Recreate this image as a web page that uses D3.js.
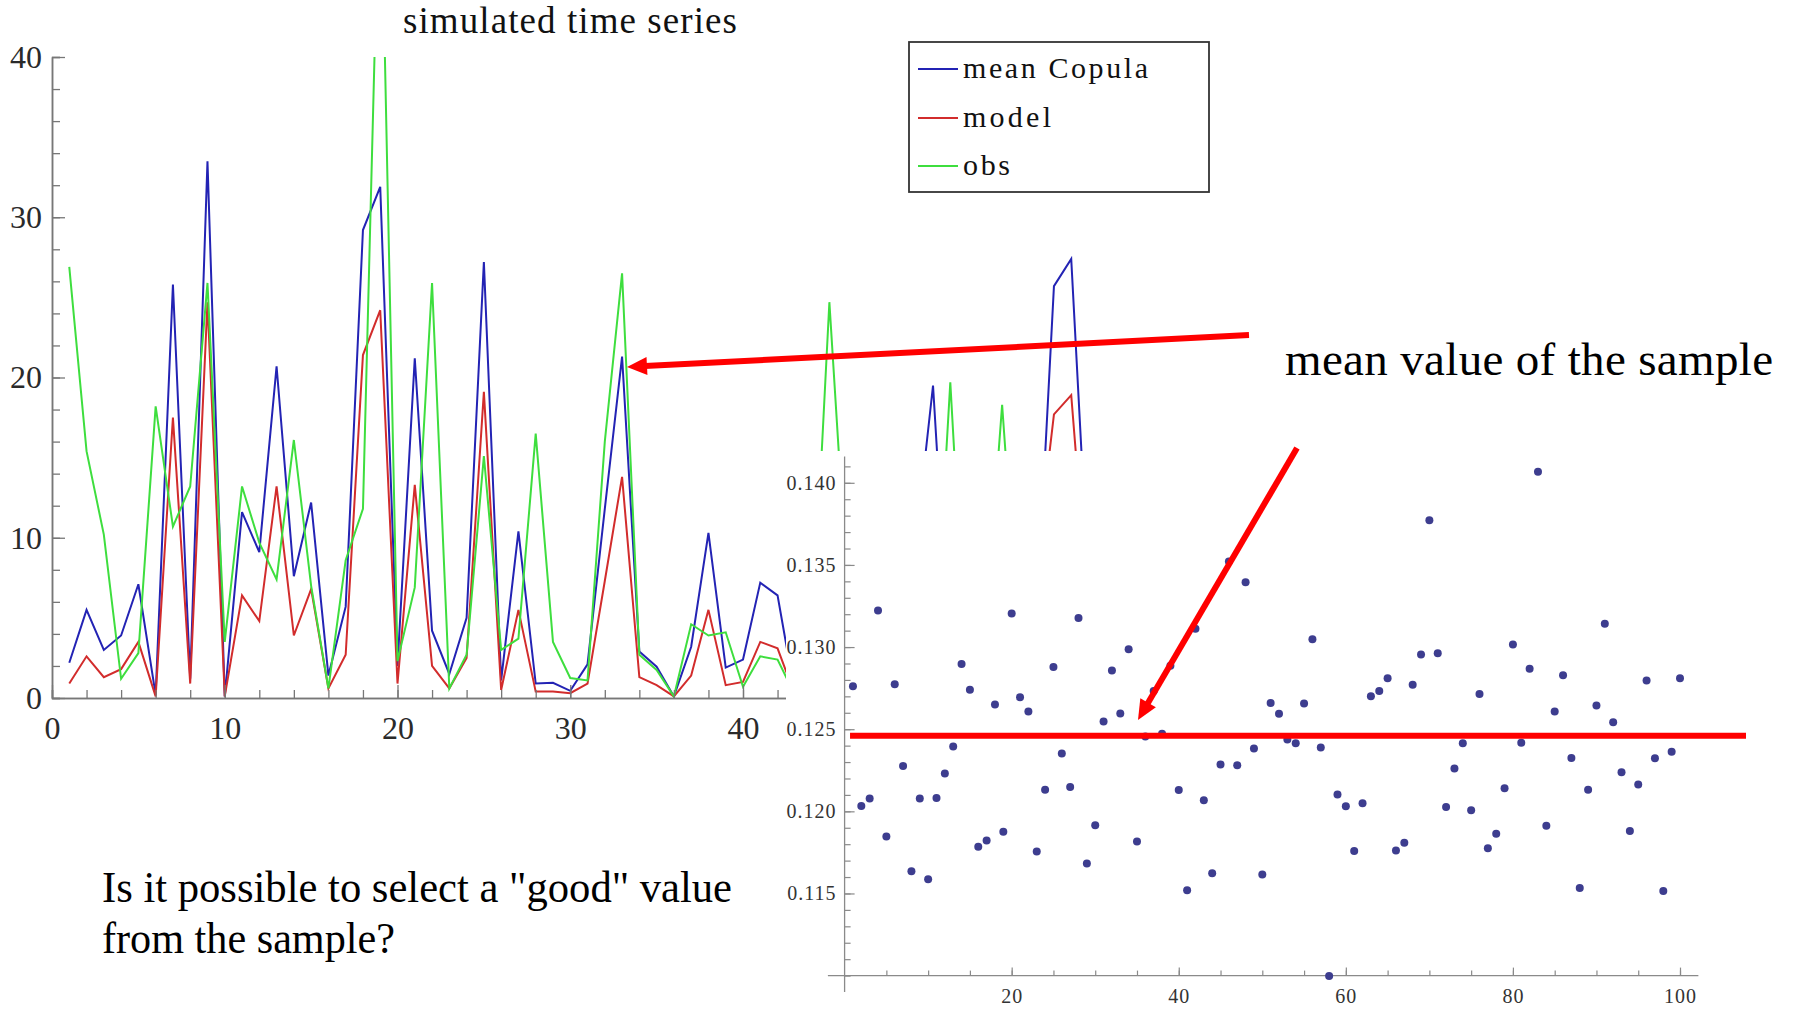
<!DOCTYPE html>
<html>
<head>
<meta charset="utf-8">
<script src="https://cdn.jsdelivr.net/npm/d3@7"></script>
<style>
    body { margin: 0; background: #fff; }
    svg { display: block; font-family: "Liberation Serif", "Times New Roman", serif; }
</style>
</head>
<body>
<div id="chart"></div>
<script>
// time series, steps 1..60
const steps = d3.range(1, 61);
const meanCopula = [2.2, 5.5, 3.0, 3.9, 7.1, 0.2, 25.8, 1.2, 33.5, 0.1,
    11.6, 9.1, 20.7, 7.6, 12.2, 1.4, 5.7, 29.2, 31.9, 2.0,
    21.2, 4.2, 1.5, 5.0, 27.2, 1.1, 10.4, 0.9, 0.95, 0.45,
    2.1, 11.8, 21.3, 2.9, 1.95, 0.1, 3.2, 10.3, 1.9, 2.4,
    7.2, 6.4, 0.3, 2.5, 8.0, 1.5, 4.0, 0.8, 6.0, 9.7,
    19.5, 1.7, 3.5, 0.6, 5.0, 2.0, 5.1, 25.7, 27.4, 7.1];
const model = [0.9, 2.6, 1.3, 1.8, 3.5, 0.1, 17.5, 0.9, 24.7, 0.1,
    6.4, 4.8, 13.2, 3.9, 6.8, 0.6, 2.7, 21.4, 24.2, 0.9,
    13.3, 2.0, 0.6, 2.5, 19.1, 0.5, 5.5, 0.4, 0.4, 0.3,
    0.9, 7.3, 13.8, 1.3, 0.8, 0.1, 1.4, 5.5, 0.8, 1.0,
    3.5, 3.1, 0.2, 1.2, 4.5, 0.6, 2.0, 0.4, 3.0, 5.5,
    10.5, 0.8, 1.8, 0.3, 2.6, 1.0, 8.5, 17.7, 18.9, 5.4];
const obs = [26.9, 15.4, 10.2, 1.2, 2.8, 18.2, 10.7, 13.2, 25.9, 3.5,
    13.2, 9.7, 7.4, 16.1, 7.0, 0.6, 8.6, 11.8, 54.0, 2.3,
    6.9, 25.9, 0.6, 2.7, 15.1, 3.0, 3.7, 16.5, 3.5, 1.25,
    1.1, 16.0, 26.5, 2.7, 1.75, 0.1, 4.6, 3.9, 4.1, 0.7,
    2.6, 2.4, 0.2, 3.6, 24.7, 7.5, 2.0, 5.5, 1.5, 3.0,
    1.0, 19.7, 0.5, 3.8, 18.3, 3.0, 2.5, 6.0, 1.2, 4.0];
const seriesNames = ["mean Copula", "model", "obs"];
const seriesColors = ["#2323b4", "#d22c2c", "#3ede3e"];

// sample of 100 values
const sampleIndex = d3.range(1, 101);
const sampleValues = [0.12762, 0.12033, 0.12078, 0.13222, 0.11847, 0.12774, 0.12276, 0.11636, 0.12078, 0.11587,
    0.12081, 0.12231, 0.12395, 0.12897, 0.12740, 0.11784, 0.11823, 0.12650, 0.11876, 0.13204,
    0.12695, 0.12608, 0.11755, 0.12132, 0.12879, 0.12352, 0.12148, 0.13177, 0.11683, 0.11915,
    0.12547, 0.12857, 0.12596, 0.12987, 0.11816, 0.12455, 0.12733, 0.12473, 0.12886, 0.12130,
    0.11520, 0.13112, 0.12067, 0.11623, 0.12285, 0.13521, 0.12280, 0.13395, 0.12383, 0.11616,
    0.12659, 0.12594, 0.12437, 0.12415, 0.12657, 0.13047, 0.12388, 0.10997, 0.12103, 0.12031,
    0.11758, 0.12049, 0.12700, 0.12733, 0.12810, 0.11762, 0.11809, 0.12771, 0.12955, 0.13772,
    0.12962, 0.12027, 0.12260, 0.12415, 0.12007, 0.12715, 0.11775, 0.11863, 0.12141, 0.13016,
    0.12417, 0.12868, 0.14068, 0.11912, 0.12608, 0.12828, 0.12325, 0.11533, 0.12132, 0.12644,
    0.13142, 0.12543, 0.12238, 0.11881, 0.12164, 0.12796, 0.12323, 0.11515, 0.12363, 0.12810];
const sampleMean = 0.1246;

const lineXTicks = [0, 10, 20, 30, 40, 50, 60];
const lineYTicks = [0, 10, 20, 30, 40];
const sampleXTicks = [20, 40, 60, 80, 100];
const sampleYTicks = [0.115, 0.120, 0.125, 0.130, 0.135, 0.140];

const W = 1794, H = 1009;
const svg = d3.select("#chart").append("svg")
    .attr("width", W)
    .attr("height", H);

// ---------- simulated time series ----------
const lx = d3.scaleLinear().domain([0, 40]).range([52, 743]);
const ly = d3.scaleLinear().domain([0, 40]).range([698, 57]);

svg.append("text")
    .attr("x", 403)
    .attr("y", 33)
    .attr("textLength", 334)
    .style("font-size", "37px")
    .style("fill", "#111")
    .text("simulated time series");

svg.append("clipPath").attr("id", "lineclip")
    .append("rect")
    .attr("x", 40).attr("y", ly(40))
    .attr("width", 1200).attr("height", ly(0) - ly(40) + 10);

const lineGen = d3.line()
    .x((d, i) => lx(steps[i]))
    .y(d => ly(d));

const lineG = svg.append("g").attr("clip-path", "url(#lineclip)");
[meanCopula, model, obs].forEach((s, k) => {
    lineG.append("path")
        .datum(s)
        .attr("d", lineGen)
        .attr("fill", "none")
        .attr("stroke", seriesColors[k])
        .attr("stroke-width", 2);
});

// d3 axes put font-family="sans-serif" on the group, drop it so the serif font applies
function styleAxis(g, col) {
    g.attr("font-family", null).attr("font-size", null);
    g.select(".domain").attr("stroke", col).attr("stroke-width", 1.5);
    g.selectAll(".tick line").attr("stroke", col).attr("stroke-width", 1.3);
    g.selectAll("text").attr("fill", "#2a2a2a");
}

const lyMinor = svg.append("g").attr("transform", "translate(52,0)")
    .call(d3.axisLeft(ly).tickValues(d3.range(0, 41, 2)).tickSize(-8).tickFormat(""));
styleAxis(lyMinor, "#777");
const lyMajor = svg.append("g").attr("transform", "translate(52,0)")
    .call(d3.axisLeft(ly).tickValues(lineYTicks).tickSizeInner(-13).tickSizeOuter(0).tickPadding(10));
styleAxis(lyMajor, "#777");
lyMajor.selectAll("text").style("font-size", "32px");

const lxScaleFull = lx.copy().domain([0, 60]).range([lx(0), lx(60)]);
const lxMinor = svg.append("g").attr("transform", `translate(0,${ly(0)})`)
    .call(d3.axisBottom(lxScaleFull).tickValues(d3.range(0, 61, 2)).tickSize(-8).tickFormat(""));
styleAxis(lxMinor, "#777");
const lxMajor = svg.append("g").attr("transform", `translate(0,${ly(0)})`)
    .call(d3.axisBottom(lxScaleFull).tickValues(lineXTicks).tickSizeInner(-13).tickSizeOuter(0).tickPadding(18));
styleAxis(lxMajor, "#777");
lxMajor.selectAll("text").style("font-size", "32px");

// legend
const legend = svg.append("g");
legend.append("rect")
    .attr("x", 909).attr("y", 42)
    .attr("width", 300).attr("height", 150)
    .attr("fill", "#fff")
    .attr("stroke", "#333")
    .attr("stroke-width", 1.8);
const legendRows = [69, 118, 166];
const legendWidths = [185, 88, 47];
seriesNames.forEach((name, i) => {
    legend.append("line")
        .attr("x1", 918).attr("x2", 958)
        .attr("y1", legendRows[i]).attr("y2", legendRows[i])
        .attr("stroke", seriesColors[i])
        .attr("stroke-width", 2);
    legend.append("text")
        .attr("x", 963)
        .attr("y", legendRows[i] + 9)
        .attr("textLength", legendWidths[i])
        .style("font-size", "30px")
        .style("fill", "#111")
        .text(name);
});

// ---------- sample panel ----------
const sx = d3.scaleLinear().domain([0, 100]).range([844.6, 1680]);
const sy = d3.scaleLinear().domain([0.110, 0.140]).range([975.6, 482.8]);

svg.append("rect")
    .attr("x", 786).attr("y", 451)
    .attr("width", W - 786).attr("height", H - 451)
    .attr("fill", "#fff");

const axCol = "#8a8a8a";
svg.append("line")
    .attr("x1", sx(0)).attr("x2", sx(0))
    .attr("y1", sy(0.1416)).attr("y2", sy(0.109))
    .attr("stroke", axCol).attr("stroke-width", 1.3);
svg.append("line")
    .attr("x1", sx(-2)).attr("x2", sx(102.2))
    .attr("y1", sy(0.110)).attr("y2", sy(0.110))
    .attr("stroke", axCol).attr("stroke-width", 1.3);

const syMinor = svg.append("g").attr("transform", `translate(${sx(0)},0)`)
    .call(d3.axisLeft(sy).tickValues(d3.range(110, 142).map(d => d / 1000)).tickSize(-6).tickFormat(""));
const syMajor = svg.append("g").attr("transform", `translate(${sx(0)},0)`)
    .call(d3.axisLeft(sy).tickValues(sampleYTicks).tickSizeInner(-10).tickSizeOuter(0)
        .tickPadding(8).tickFormat(d3.format(".3f")));
const sxMinor = svg.append("g").attr("transform", `translate(0,${sy(0.110)})`)
    .call(d3.axisBottom(sx).tickValues(d3.range(5, 101, 5)).tickSize(-5).tickFormat(""));
const sxMajor = svg.append("g").attr("transform", `translate(0,${sy(0.110)})`)
    .call(d3.axisBottom(sx).tickValues(sampleXTicks).tickSizeInner(-8).tickSizeOuter(0).tickPadding(13));
[syMinor, syMajor, sxMinor, sxMajor].forEach(g => {
    g.attr("font-family", null).attr("font-size", null);
    g.select(".domain").remove();
    g.selectAll(".tick line").attr("stroke", axCol).attr("stroke-width", 1.2);
    g.selectAll("text").attr("fill", "#333")
        .style("font-size", "20px").style("letter-spacing", "1px");
});

svg.append("g").selectAll("circle")
    .data(sampleValues)
    .enter().append("circle")
    .attr("cx", (d, i) => sx(sampleIndex[i]))
    .attr("cy", d => sy(d))
    .attr("r", 4)
    .attr("fill", "#3d3d8f");

// mean line
svg.append("line")
    .attr("x1", sx(0.65)).attr("x2", sx(107.9))
    .attr("y1", sy(sampleMean)).attr("y2", sy(sampleMean))
    .attr("stroke", "#ff0000")
    .attr("stroke-width", 6);

// ---------- annotations ----------
function arrow(x1, y1, x2, y2) {
    const dx = x2 - x1, dy = y2 - y1;
    const len = Math.hypot(dx, dy);
    const ux = dx / len, uy = dy / len;
    const headLen = 20, half = 9;
    const bx = x2 - ux * headLen, by = y2 - uy * headLen;
    svg.append("line")
        .attr("x1", x1).attr("y1", y1)
        .attr("x2", bx + ux * 2).attr("y2", by + uy * 2)
        .attr("stroke", "#ff0000")
        .attr("stroke-width", 6);
    svg.append("polygon")
        .attr("points", [[x2, y2], [bx - uy * half, by + ux * half], [bx + uy * half, by - ux * half]]
            .map(p => p.join(",")).join(" "))
        .attr("fill", "#ff0000");
}
arrow(1249, 335, 627, 367);
arrow(1297, 448, 1138, 720);

svg.append("text")
    .attr("x", 1285)
    .attr("y", 375)
    .attr("textLength", 488)
    .style("font-size", "47px")
    .style("fill", "#000")
    .text("mean value of the sample");

const question = ["Is it possible to select a \"good\" value", "from the sample?"];
const questionWidths = [630, 293];
question.forEach((q, i) => {
    svg.append("text")
        .attr("x", 102).attr("y", 902 + i * 51)
        .attr("textLength", questionWidths[i])
        .attr("lengthAdjust", "spacingAndGlyphs")
        .style("font-size", "45px")
        .style("fill", "#000")
        .text(q);
});
</script>
</body>
</html>
